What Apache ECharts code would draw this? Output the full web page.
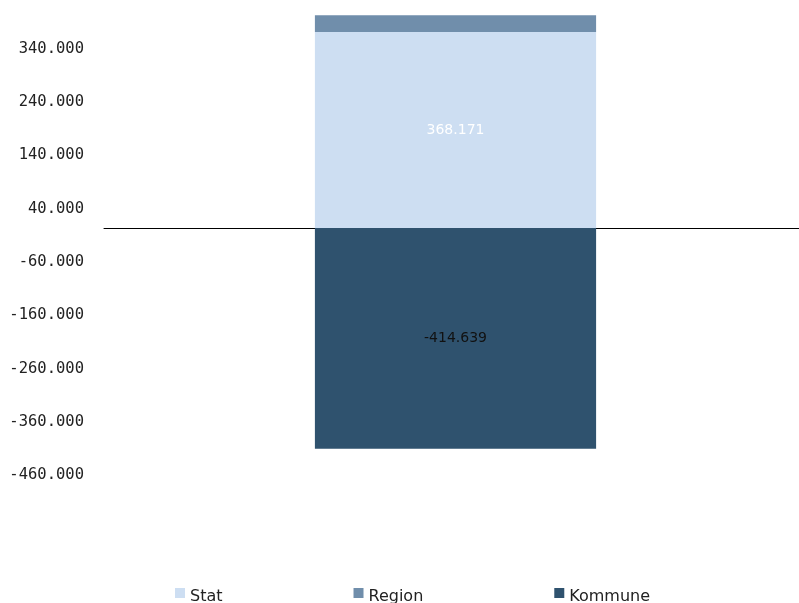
<!DOCTYPE html>
<html>
<head>
<meta charset="utf-8">
<script src="https://cdn.jsdelivr.net/npm/echarts@6/dist/echarts.min.js"></script>
<style>
  html, body { margin: 0; padding: 0; background: #fff; }
  #chart { width: 799px; height: 603px; }
</style>
</head>
<body>
<div id="chart"></div>
<script>
// One category, stacked by level of government
const categories = [''];
const statValues = [368171];
const regionValues = [31400];
const kommuneValues = [-414639];

const axisMin = -460000;
const axisMax = 400000;
const axisStep = 100000;

// Norwegian thousands separator: 368171 -> "368.171"
function fmt(v) {
  const s = Math.abs(Math.round(v)).toString().replace(/\B(?=(\d{3})+(?!\d))/g, '.');
  return (v < 0 ? '-' : '') + s;
}

const chart = echarts.init(document.getElementById('chart'));
chart.setOption({
  animation: false,
  backgroundColor: '#ffffff',
  grid: { left: 104, width: 703, top: 15, height: 458, containLabel: false, outerBoundsMode: 'none' },
  legend: {
    left: 170,
    top: 583,
    itemWidth: 10,
    itemHeight: 10,
    itemGap: 131,
    icon: 'rect',
    formatter: name => '{t|' + name + '}',
    textStyle: {
      fontFamily: 'DejaVu Sans', fontSize: 16, color: '#222',
      rich: { t: { fontFamily: 'DejaVu Sans', fontSize: 16, color: '#222', padding: [8, 0, 0, 0] } }
    },
    data: ['Stat', 'Region', 'Kommune']
  },
  xAxis: {
    type: 'category',
    data: categories,
    axisLine: { onZero: true, lineStyle: { color: '#000', width: 1 } },
    axisTick: { show: false },
    axisLabel: { show: false },
    splitLine: { show: false }
  },
  yAxis: {
    type: 'value',
    min: axisMin,
    max: axisMax,
    interval: axisStep,
    axisLine: { show: false },
    axisTick: { show: false },
    splitLine: { show: false },
    axisLabel: {
      showMaxLabel: false,
      formatter: v => '{v|' + fmt(v) + '}',
      color: '#222',
      margin: 20,
      rich: { v: { fontFamily: 'DejaVu Sans Mono', fontSize: 15.5, color: '#222', padding: [4, 0, 0, 0] } }
    }
  },
  series: [
    {
      name: 'Stat', type: 'bar', stack: 'total', data: statValues,
      barWidth: '40%',
      itemStyle: { color: '#cddef2' },
      label: { show: true, position: 'inside', formatter: p => fmt(p.value),
        color: '#ffffff', fontFamily: 'DejaVu Sans', fontSize: 14 }
    },
    {
      name: 'Region', type: 'bar', stack: 'total', data: regionValues,
      barWidth: '40%',
      itemStyle: { color: '#708eab' }
    },
    {
      name: 'Kommune', type: 'bar', stack: 'total', data: kommuneValues,
      barWidth: '40%',
      itemStyle: { color: '#2f526e' },
      label: { show: true, position: 'inside', formatter: p => fmt(p.value),
        color: '#111111', fontFamily: 'DejaVu Sans', fontSize: 14 }
    }
  ]
});
</script>
</body>
</html>
